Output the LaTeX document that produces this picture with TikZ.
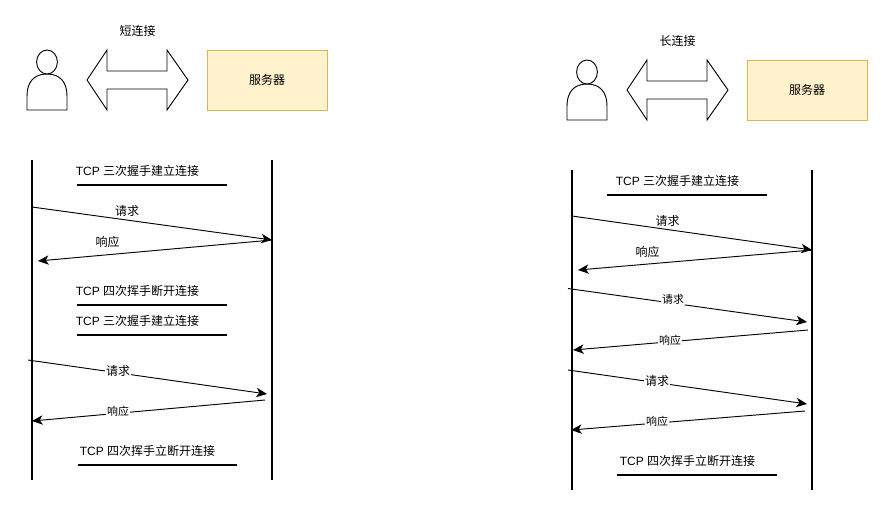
\documentclass[tikz,border=0pt]{standalone}
\usepackage{fontspec}
\setmainfont{Liberation Sans}
\newfontfamily\cjk{Noto Sans CJK SC}
\usetikzlibrary{arrows.meta,shapes.geometric}
\tikzset{
  x=0.75pt,y=-0.75pt,
  life/.style={draw=black,line width=1.4pt},
  msg/.style={draw=black,line width=0.7pt,-{Stealth[length=8pt,width=7pt,inset=2.2pt]}},
  bar/.style={draw=black,line width=1.4pt},
  person/.style={draw=black,line width=0.7pt,fill=white},
  headshape/.style={person,ellipse,minimum width=15.6pt,minimum height=18pt,inner sep=0pt},
  txt/.style={inner sep=0pt,font=\fontsize{9}{11}\cjk},
  tcptxt/.style={inner sep=0pt,font=\fontsize{9}{11}\selectfont},
  lab/.style={fill=white,inner sep=0.6pt,font=\fontsize{8.2}{10}\cjk},
  srv/.style={draw={rgb,255:red,214;green,182;blue,86},fill={rgb,255:red,255;green,242;blue,204},line width=0.6pt,minimum width=90pt,minimum height=45pt,inner sep=0pt,font=\fontsize{9}{11}\cjk}
}
\newcommand{\tcpl}[1]{TCP {\cjk #1}}
\begin{document}
\begin{tikzpicture}
\useasboundingbox (0,0) rectangle (888,512);
% ---- top left
\draw[person] (27,110) -- (27,96) .. controls (27,82) and (34,74) .. (47,74) .. controls (60,74) and (67,82) .. (67,96) -- (67,110) -- cycle;
\node[headshape] (headA) at (47,62) {};
\draw[person] (87,80) -- (107,50) -- (107,71) -- (167,71) -- (167,50) -- (188,80) -- (167,110) -- (167,89) -- (107,89) -- (107,110) -- cycle;
\node[txt] (titleA) at (137.5,31) {短连接};
\node[srv] (srvA) at (267,80) {服务器};
% ---- top right
\draw[person] (567,120) -- (567,106) .. controls (567,92) and (574,84) .. (587,84) .. controls (600,84) and (607,92) .. (607,106) -- (607,120) -- cycle;
\node[headshape] (headB) at (587,72) {};
\draw[person] (627,90) -- (647,60) -- (647,81) -- (707,81) -- (707,60) -- (728,90) -- (707,120) -- (707,99) -- (647,99) -- (647,120) -- cycle;
\node[txt] (titleB) at (677.5,41) {长连接};
\node[srv] (srvB) at (807,90) {服务器};
% ---- lifelines
\coordinate (a1) at (32,160); \coordinate (a2) at (32,480);
\coordinate (b1) at (272,160); \coordinate (b2) at (272,480);
\coordinate (c1) at (572,170); \coordinate (c2) at (572,490);
\coordinate (d1) at (812,170); \coordinate (d2) at (812,490);
\draw[life] (a1) -- (a2);
\draw[life] (b1) -- (b2);
\draw[life] (c1) -- (c2);
\draw[life] (d1) -- (d2);
% ---- bars
\coordinate (p1) at (77,185); \coordinate (q1) at (227,185);
\coordinate (p2) at (77,305); \coordinate (q2) at (227,305);
\coordinate (p3) at (77,335); \coordinate (q3) at (227,335);
\coordinate (p4) at (78,465); \coordinate (q4) at (237,465);
\coordinate (p5) at (607,195); \coordinate (q5) at (767,195);
\coordinate (p6) at (617,475); \coordinate (q6) at (777,475);
\draw[bar] (p1) -- (q1);
\draw[bar] (p2) -- (q2);
\draw[bar] (p3) -- (q3);
\draw[bar] (p4) -- (q4);
\draw[bar] (p5) -- (q5);
\draw[bar] (p6) -- (q6);
\node[tcptxt] (t1) at (137.5,170.5) {\tcpl{三次握手建立连接}};
\node[tcptxt] (t2) at (137.5,291) {\tcpl{四次挥手断开连接}};
\node[tcptxt] (t3) at (137.5,321) {\tcpl{三次握手建立连接}};
\node[tcptxt] (t4) at (147.5,450.5) {\tcpl{四次挥手立断开连接}};
\node[tcptxt] (t5) at (677.5,180.5) {\tcpl{三次握手建立连接}};
\node[tcptxt] (t6) at (687.5,460.5) {\tcpl{四次挥手立断开连接}};
% ---- messages left
\coordinate (m1s) at (32,207); \coordinate (m1e) at (272,240);
\coordinate (m2s) at (272,240); \coordinate (m2e) at (38,261);
\coordinate (m3s) at (28,360); \coordinate (m3e) at (267,394);
\coordinate (m4s) at (265,400); \coordinate (m4e) at (32,421);
\draw[msg] (m1s) -- (m1e);
\draw[msg] (m2s) -- (m2e);
\draw[msg] (m3s) -- (m3e);
\draw[msg] (m4s) -- (m4e);
\node[txt] (l1) at (127,211) {请求};
\node[txt] (l2) at (107.5,241.5) {响应};
\node[lab,font=\fontsize{9}{11}\cjk] (l3) at (118,371) {请求};
\node[lab] (l4) at (118,411) {响应};
% ---- messages right
\coordinate (n1s) at (572,216); \coordinate (n1e) at (812,250);
\coordinate (n2s) at (812,250); \coordinate (n2e) at (578,270);
\coordinate (n3s) at (568,288.5); \coordinate (n3e) at (807,322);
\coordinate (n4s) at (808,330); \coordinate (n4e) at (573,350);
\coordinate (n5s) at (568,370); \coordinate (n5e) at (807,404);
\coordinate (n6s) at (805,411); \coordinate (n6e) at (571,430);
\draw[msg] (n1s) -- (n1e);
\draw[msg] (n2s) -- (n2e);
\draw[msg] (n3s) -- (n3e);
\draw[msg] (n4s) -- (n4e);
\draw[msg] (n5s) -- (n5e);
\draw[msg] (n6s) -- (n6e);
\node[txt] (r1) at (667.5,221) {请求};
\node[txt] (r2) at (647.5,251.5) {响应};
\node[lab] (r3) at (673,299) {请求};
\node[lab] (r4) at (670,340) {响应};
\node[lab,font=\fontsize{9}{11}\cjk] (r5) at (657,381) {请求};
\node[lab] (r6) at (657,421) {响应};
\end{tikzpicture}
\end{document}
